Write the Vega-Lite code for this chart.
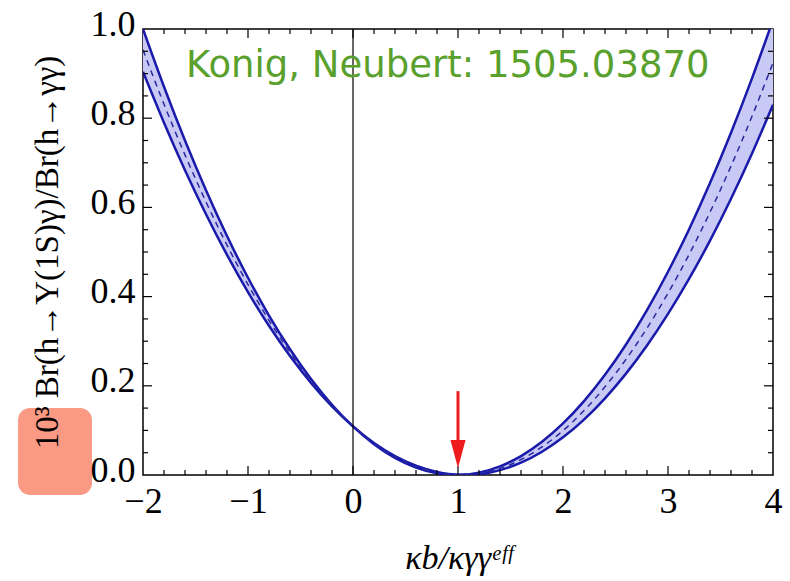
{
  "$schema": "https://vega.github.io/schema/vega-lite/v6.json",
  "width": 630,
  "height": 446,
  "autosize": {"type": "none"},
  "padding": {"left": 143, "top": 29, "right": 17, "bottom": 106},
  "background": "white",
  "config": {
    "view": {"stroke": "black", "strokeWidth": 1.5}
  },
  "datasets": {
    "curves": [
      {"k": -2.0, "hi": 1.0000, "mid": 0.9533, "lo": 0.9041},
      {"k": -1.8, "hi": 0.8705, "mid": 0.8313, "lo": 0.7899},
      {"k": -1.6, "hi": 0.7500, "mid": 0.7177, "lo": 0.6834},
      {"k": -1.4, "hi": 0.6384, "mid": 0.6125, "lo": 0.5847},
      {"k": -1.2, "hi": 0.5359, "mid": 0.5155, "lo": 0.4936},
      {"k": -1.0, "hi": 0.4422, "mid": 0.4269, "lo": 0.4102},
      {"k": -0.8, "hi": 0.3576, "mid": 0.3467, "lo": 0.3346},
      {"k": -0.6, "hi": 0.2820, "mid": 0.2748, "lo": 0.2666},
      {"k": -0.4, "hi": 0.2153, "mid": 0.2113, "lo": 0.2064},
      {"k": -0.2, "hi": 0.1576, "mid": 0.1561, "lo": 0.1538},
      {"k": 0.0, "hi": 0.1089, "mid": 0.1092, "lo": 0.1090},
      {"k": 0.2, "hi": 0.0692, "mid": 0.0707, "lo": 0.0719},
      {"k": 0.4, "hi": 0.0384, "mid": 0.0405, "lo": 0.0424},
      {"k": 0.6, "hi": 0.0166, "mid": 0.0187, "lo": 0.0207},
      {"k": 0.8, "hi": 0.0038, "mid": 0.0052, "lo": 0.0067},
      {"k": 1.0, "hi": 0.0000, "mid": 0.0001, "lo": 0.0004},
      {"k": 1.2, "hi": 0.0052, "mid": 0.0033, "lo": 0.0018},
      {"k": 1.4, "hi": 0.0193, "mid": 0.0148, "lo": 0.0109},
      {"k": 1.6, "hi": 0.0424, "mid": 0.0347, "lo": 0.0277},
      {"k": 1.8, "hi": 0.0745, "mid": 0.0629, "lo": 0.0522},
      {"k": 2.0, "hi": 0.1156, "mid": 0.0995, "lo": 0.0844},
      {"k": 2.2, "hi": 0.1657, "mid": 0.1444, "lo": 0.1243},
      {"k": 2.4, "hi": 0.2247, "mid": 0.1977, "lo": 0.1720},
      {"k": 2.6, "hi": 0.2927, "mid": 0.2593, "lo": 0.2273},
      {"k": 2.8, "hi": 0.3697, "mid": 0.3293, "lo": 0.2903},
      {"k": 3.0, "hi": 0.4557, "mid": 0.4076, "lo": 0.3611},
      {"k": 3.2, "hi": 0.5506, "mid": 0.4942, "lo": 0.4395},
      {"k": 3.4, "hi": 0.6546, "mid": 0.5892, "lo": 0.5256},
      {"k": 3.6, "hi": 0.7675, "mid": 0.6925, "lo": 0.6195},
      {"k": 3.8, "hi": 0.8894, "mid": 0.8042, "lo": 0.7211},
      {"k": 4.0, "hi": 1.0202, "mid": 0.9242, "lo": 0.8303}
    ],
    "xmajor": [{"v": -1}, {"v": 0}, {"v": 1}, {"v": 2}, {"v": 3}],
    "xminor": [{"v": -1.8}, {"v": -1.6}, {"v": -1.4}, {"v": -1.2}, {"v": -0.8}, {"v": -0.6}, {"v": -0.4}, {"v": -0.2}, {"v": 0.2}, {"v": 0.4}, {"v": 0.6}, {"v": 0.8}, {"v": 1.2}, {"v": 1.4}, {"v": 1.6}, {"v": 1.8}, {"v": 2.2}, {"v": 2.4}, {"v": 2.6}, {"v": 2.8}, {"v": 3.2}, {"v": 3.4}, {"v": 3.6}, {"v": 3.8}],
    "ymajor": [{"v": 0.2}, {"v": 0.4}, {"v": 0.6}, {"v": 0.8}],
    "yminor": [{"v": 0.05}, {"v": 0.1}, {"v": 0.15}, {"v": 0.25}, {"v": 0.3}, {"v": 0.35}, {"v": 0.45}, {"v": 0.5}, {"v": 0.55}, {"v": 0.65}, {"v": 0.7}, {"v": 0.75}, {"v": 0.85}, {"v": 0.9}, {"v": 0.95}],
    "vline": [{"k": 0}],
    "arrow": [{"k": 1, "top": 0.188, "bottom": 0.065, "head": 0.047}],
    "label": [{"k": -1.59, "v": 0.892, "text": "Konig, Neubert: 1505.03870"}],
    "box": [{"k1": -3.19, "k2": -2.486, "v1": -0.045, "v2": 0.150}]
  },
  "resolve": {"scale": {"x": "shared", "y": "shared"}, "axis": {"x": "independent", "y": "independent"}},
  "layer": [
    {
      "data": {"name": "curves"},
      "mark": {"type": "area", "color": "#c9c9f6", "opacity": 1, "interpolate": "monotone", "clip": true},
      "encoding": {
        "x": {
          "field": "k", "type": "quantitative",
          "scale": {"domain": [-2, 4], "nice": false, "zero": false},
          "axis": {
            "orient": "bottom",
            "values": [-2, -1, 0, 1, 2, 3, 4],
            "ticks": false, "tickSize": 0, "domain": false, "grid": false,
            "format": "d",
            "labelFont": "Liberation Serif", "labelFontSize": 36, "labelColor": "black",
            "labelPadding": 9, "labelOverlap": false, "labelFlush": false, "labelBound": false,
            "title": "κb/κγγᵉᶠᶠ", "titleFont": "Liberation Serif", "titleFontStyle": "italic",
            "titleFontSize": 34, "titleFontWeight": "normal", "titleColor": "black", "titlePadding": 22
          }
        },
        "y": {
          "field": "hi", "type": "quantitative",
          "scale": {"domain": [0, 1], "nice": false, "zero": false},
          "axis": {
            "orient": "left",
            "values": [0, 0.2, 0.4, 0.6, 0.8, 1],
            "ticks": false, "tickSize": 0, "domain": false, "grid": false, "zindex": 1,
            "format": ".1f",
            "labelFont": "Liberation Serif", "labelFontSize": 36, "labelColor": "black",
            "labelPadding": 8, "labelOffset": -5, "labelOverlap": false, "labelFlush": false, "labelBound": false,
            "title": "10³ Br(h→Υ(1S)γ)/Br(h→γγ)", "titleFont": "Liberation Serif",
            "titleFontSize": 33, "titleFontWeight": "normal", "titleColor": "black", "titlePadding": 26
          }
        },
        "y2": {"field": "lo"}
      }
    },
    {
      "data": {"name": "curves"},
      "mark": {"type": "line", "color": "#1a1aaa", "strokeWidth": 2.5, "interpolate": "monotone", "clip": true},
      "encoding": {
        "x": {"field": "k", "type": "quantitative", "axis": null},
        "y": {"field": "hi", "type": "quantitative", "axis": null}
      }
    },
    {
      "data": {"name": "curves"},
      "mark": {"type": "line", "color": "#1a1aaa", "strokeWidth": 2.5, "interpolate": "monotone", "clip": true},
      "encoding": {
        "x": {"field": "k", "type": "quantitative", "axis": null},
        "y": {"field": "lo", "type": "quantitative", "axis": null}
      }
    },
    {
      "data": {"name": "curves"},
      "mark": {"type": "line", "color": "#2a2aa0", "strokeWidth": 1.5, "strokeDash": [6, 5], "interpolate": "monotone", "clip": true},
      "encoding": {
        "x": {"field": "k", "type": "quantitative", "axis": null},
        "y": {"field": "mid", "type": "quantitative", "axis": null}
      }
    },
    {
      "data": {"name": "xmajor"},
      "mark": {"type": "tick", "orient": "vertical", "color": "black", "size": 18, "thickness": 1.2, "opacity": 1, "clip": true},
      "encoding": {
        "x": {"field": "v", "type": "quantitative", "axis": null},
        "y": {"datum": 0, "type": "quantitative", "axis": null}
      }
    },
    {
      "data": {"name": "xmajor"},
      "mark": {"type": "tick", "orient": "vertical", "color": "black", "size": 18, "thickness": 1.2, "opacity": 1, "clip": true},
      "encoding": {
        "x": {"field": "v", "type": "quantitative", "axis": null},
        "y": {"datum": 1, "type": "quantitative", "axis": null}
      }
    },
    {
      "data": {"name": "xminor"},
      "mark": {"type": "tick", "orient": "vertical", "color": "black", "size": 10, "thickness": 1.2, "opacity": 1, "clip": true},
      "encoding": {
        "x": {"field": "v", "type": "quantitative", "axis": null},
        "y": {"datum": 0, "type": "quantitative", "axis": null}
      }
    },
    {
      "data": {"name": "xminor"},
      "mark": {"type": "tick", "orient": "vertical", "color": "black", "size": 10, "thickness": 1.2, "opacity": 1, "clip": true},
      "encoding": {
        "x": {"field": "v", "type": "quantitative", "axis": null},
        "y": {"datum": 1, "type": "quantitative", "axis": null}
      }
    },
    {
      "data": {"name": "ymajor"},
      "mark": {"type": "tick", "orient": "horizontal", "color": "black", "size": 18, "thickness": 1.2, "opacity": 1, "clip": true},
      "encoding": {
        "y": {"field": "v", "type": "quantitative", "axis": null},
        "x": {"datum": -2, "type": "quantitative", "axis": null}
      }
    },
    {
      "data": {"name": "ymajor"},
      "mark": {"type": "tick", "orient": "horizontal", "color": "black", "size": 18, "thickness": 1.2, "opacity": 1, "clip": true},
      "encoding": {
        "y": {"field": "v", "type": "quantitative", "axis": null},
        "x": {"datum": 4, "type": "quantitative", "axis": null}
      }
    },
    {
      "data": {"name": "yminor"},
      "mark": {"type": "tick", "orient": "horizontal", "color": "black", "size": 10, "thickness": 1.2, "opacity": 1, "clip": true},
      "encoding": {
        "y": {"field": "v", "type": "quantitative", "axis": null},
        "x": {"datum": -2, "type": "quantitative", "axis": null}
      }
    },
    {
      "data": {"name": "yminor"},
      "mark": {"type": "tick", "orient": "horizontal", "color": "black", "size": 10, "thickness": 1.2, "opacity": 1, "clip": true},
      "encoding": {
        "y": {"field": "v", "type": "quantitative", "axis": null},
        "x": {"datum": 4, "type": "quantitative", "axis": null}
      }
    },
    {
      "data": {"name": "vline"},
      "mark": {"type": "rule", "color": "black", "strokeWidth": 1.2},
      "encoding": {
        "x": {"field": "k", "type": "quantitative", "axis": null}
      }
    },
    {
      "data": {"name": "arrow"},
      "mark": {"type": "rule", "color": "#ee1c1c", "strokeWidth": 3},
      "encoding": {
        "x": {"field": "k", "type": "quantitative", "axis": null},
        "y": {"field": "top", "type": "quantitative", "axis": null},
        "y2": {"field": "bottom"}
      }
    },
    {
      "data": {"name": "arrow"},
      "mark": {"type": "point", "shape": "M-0.54,-1L0.54,-1L0,1Z", "filled": true, "color": "#ee1c1c", "opacity": 1, "size": 784, "strokeWidth": 0},
      "encoding": {
        "x": {"field": "k", "type": "quantitative", "axis": null},
        "y": {"field": "head", "type": "quantitative", "axis": null}
      }
    },
    {
      "data": {"name": "label"},
      "mark": {"type": "text", "font": "DejaVu Sans", "fontSize": 37, "color": "#5aa02c", "align": "left", "baseline": "alphabetic", "clip": false},
      "encoding": {
        "x": {"field": "k", "type": "quantitative", "axis": null},
        "y": {"field": "v", "type": "quantitative", "axis": null},
        "text": {"field": "text"}
      }
    },
    {
      "data": {"name": "box"},
      "mark": {"type": "rect", "color": "#fa9a85", "opacity": 1, "cornerRadius": 12, "clip": false},
      "encoding": {
        "x": {"field": "k1", "type": "quantitative", "axis": null},
        "x2": {"field": "k2"},
        "y": {"field": "v1", "type": "quantitative", "axis": null},
        "y2": {"field": "v2"}
      }
    }
  ]
}
